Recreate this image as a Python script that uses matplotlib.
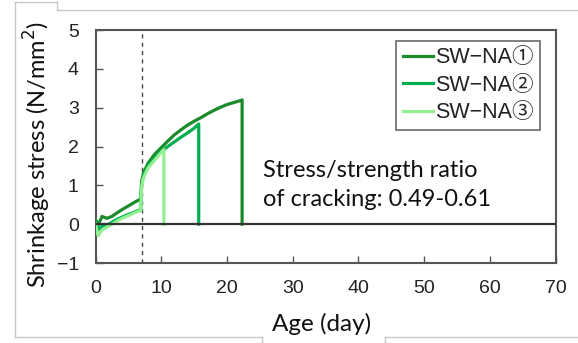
import matplotlib
matplotlib.use("Agg")
import matplotlib.pyplot as plt
from matplotlib.lines import Line2D

# ---- data ----
days_1 = [0, 0.4, 1.0, 1.7, 2.5, 3, 4, 5, 6, 6.9, 7.0, 7.3, 8, 9, 10, 11, 12, 13, 14, 15, 16, 17, 18, 19, 20, 21, 22, 22.3, 22.3]
stress_1 = [0.12, -0.02, 0.2, 0.15, 0.2, 0.26, 0.37, 0.47, 0.57, 0.65, 1.08, 1.32, 1.57, 1.8, 1.97, 2.14, 2.3, 2.43, 2.55, 2.65, 2.74, 2.84, 2.93, 3.01, 3.08, 3.13, 3.18, 3.2, 0]

days_2 = [0, 0.4, 1, 2, 3, 4, 5, 6, 6.9, 7.0, 7.3, 8, 9, 10, 11, 12, 13, 14, 15, 15.7, 15.7]
stress_2 = [0.05, -0.15, -0.05, 0.0, 0.1, 0.18, 0.25, 0.32, 0.37, 1.0, 1.25, 1.5, 1.7, 1.87, 2.0, 2.12, 2.24, 2.35, 2.47, 2.58, 0]

days_3 = [0, 0.4, 1, 2, 3, 4, 5, 6, 6.9, 7.0, 7.3, 8, 9, 10, 10.4, 10.4]
stress_3 = [0.0, -0.3, -0.15, -0.05, 0.05, 0.15, 0.22, 0.3, 0.35, 0.95, 1.2, 1.45, 1.65, 1.85, 1.92, 0]

series_labels = ["SW\u2212NA\u2460", "SW\u2212NA\u2461", "SW\u2212NA\u2462"]
series_colors = ["#1a8a2a", "#00b050", "#92f092"]
load_day = 7
x_ticks = [0, 10, 20, 30, 40, 50, 60, 70]
y_ticks = [-1, 0, 1, 2, 3, 4, 5]

W, H = 578, 343
fig = plt.figure(figsize=(W / 100, H / 100), dpi=100)
ax = fig.add_axes([95.5 / W, 1 - 263 / H, (555.7 - 95.5) / W, (263 - 30) / H])

tick_font = ["Liberation Sans", "Noto Sans CJK JP", "DejaVu Sans"]
label_font = ["Lato", "DejaVu Sans"]

for d, s, lab, c in zip([days_1, days_2, days_3], [stress_1, stress_2, stress_3],
                        series_labels, series_colors):
    ax.plot(d, s, color=c, lw=2.3, label=lab, zorder=3)

ax.axhline(0, color="#333333", lw=1.6, zorder=4)
ax.axvline(load_day, color="#444444", lw=1.0, ls=(0, (3, 3)), zorder=2)

ax.set_xlim(0, 70)
ax.set_ylim(-1, 5)
ax.set_xticks(x_ticks)
ax.set_yticks(y_ticks)
ax.tick_params(direction="in", length=5, width=1.0, color="#555555", pad=12,
               labelsize=14, top=False, right=False)
for lab in ax.get_xticklabels() + ax.get_yticklabels():
    lab.set_fontfamily(tick_font)
    lab.set_color("#222222")
for sp in ax.spines.values():
    sp.set_color("#555555")
    sp.set_linewidth(1.5)

leg = ax.legend(loc="upper right", bbox_to_anchor=(540 / W, 1 - 40.7 / H),
                bbox_transform=fig.transFigure, borderaxespad=0,
                prop={"family": tick_font, "size": 15.5}, frameon=True, fancybox=False,
                handlelength=1.4, handletextpad=0.1, labelspacing=0.3,
                borderpad=0.3)
leg.get_frame().set_edgecolor("#444444")
leg.get_frame().set_linewidth(1.2)
for t in leg.get_texts():
    t.set_color("#222222")

fig.text(263 / W, 1 - 185 / H, "Stress/strength ratio\nof cracking: 0.49-0.61",
         family=label_font, fontsize=17, ha="left", va="center",
         linespacing=1.45, color="#111111")

fig.text(322 / W, 1 - 324 / H, "Age (day)", family=label_font, fontsize=17.5,
         ha="center", va="center", color="#111111")
fig.text(37 / W, 1 - 155 / H, "Shrinkage stress (N/mm$^2$)", family=label_font,
         fontsize=17, ha="center", va="center", rotation=90, color="#111111")

# decorative gray frame fragments of the original picture
frame_col = "#c8c8c8"
segs = [
    ([15, 15], [2, 337]),
    ([15, 57], [2, 2]),
    ([57, 57], [2, 10]),
    ([57, 578], [10, 10]),
    ([15, 262], [337, 337]),
    ([262, 262], [337, 343]),
    ([385, 385], [337, 343]),
    ([385, 578], [337, 337]),
]
for xs, ys in segs:
    fig.add_artist(Line2D([x / W for x in xs], [1 - y / H for y in ys],
                          transform=fig.transFigure, color=frame_col, lw=1.0))

fig.savefig("out.png", dpi=100)
